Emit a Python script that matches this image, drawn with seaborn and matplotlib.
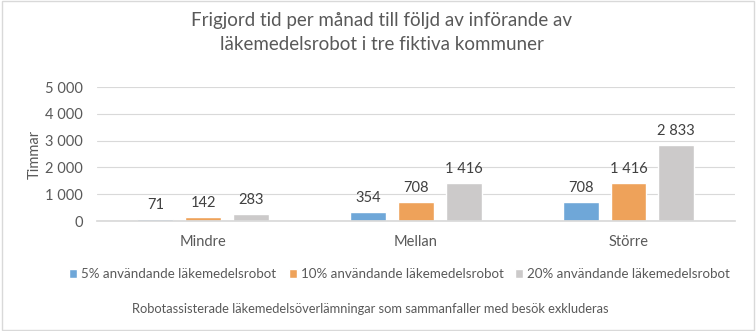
import matplotlib
matplotlib.use("Agg")
import matplotlib.pyplot as plt
import seaborn as sns
import pandas as pd
from matplotlib.ticker import FuncFormatter
from matplotlib.patches import Rectangle

categories = ["Mindre", "Mellan", "Större"]
series = ["5% användande läkemedelsrobot", "10% användande läkemedelsrobot", "20% användande läkemedelsrobot"]
values_5 = [71, 354, 708]
values_10 = [142, 708, 1416]
values_20 = [283, 1416, 2833]
colors = ["#6FA7D8", "#EEA25A", "#CCCACA"]

rows = []
for s, vals in zip(series, [values_5, values_10, values_20]):
    for c, v in zip(categories, vals):
        rows.append({"Kommun": c, "Serie": s, "Timmar": v})
df = pd.DataFrame(rows)

sns.set_theme(style="white")
plt.rcParams['font.family'] = ['Lato', 'DejaVu Sans']

fig = plt.figure(figsize=(7.56, 3.31), dpi=100)
ax = fig.add_axes([0.128, 0.332, 0.844, 0.405])

sns.barplot(data=df, x="Kommun", y="Timmar", hue="Serie", order=categories,
            hue_order=series, palette=colors, width=0.675, gap=0.25, ax=ax,
            saturation=1, legend=True)

def fmt(v):
    return f"{int(round(v)):,}".replace(",", " ")

for cont in ax.containers:
    ax.bar_label(cont, labels=[fmt(b.get_height()) for b in cont], padding=5,
                 fontsize=10.5, color="#404040")

ax.set_ylim(0, 5000)
ax.set_yticks(range(0, 5001, 1000))
ax.yaxis.set_major_formatter(FuncFormatter(lambda v, p: fmt(v)))
ax.set_xlim(-0.5, 2.5)
ax.grid(axis="y", color="#D9D9D9", linewidth=0.8)
ax.set_axisbelow(True)
for sp in ["top", "right", "left"]:
    ax.spines[sp].set_visible(False)
ax.spines["bottom"].set_color("#D9D9D9")
ax.tick_params(axis="y", length=0, labelsize=10.5, labelcolor="#595959", pad=10)
ax.tick_params(axis="x", length=0, labelsize=10.5, labelcolor="#595959", pad=10)
ax.set_xlabel("")
ax.set_ylabel("Timmar", fontsize=10.5, color="#595959", labelpad=2)

ax.legend(loc="center", bbox_to_anchor=(0.475, -0.395), ncol=3, frameon=False,
          fontsize=9.6, labelcolor="#595959", handlelength=0.6, handleheight=0.6,
          handletextpad=0.3, columnspacing=0.9, borderaxespad=0)

fig.suptitle("Frigjord tid per månad till följd av införande av\nläkemedelsrobot i tre fiktiva kommuner",
             x=0.505, y=0.965, fontsize=13.5, color="#595959", linespacing=1.55)
fig.text(0.49, 0.066, "Robotassisterade läkemedelsöverlämningar som sammanfaller med besök exkluderas",
         ha="center", va="center", fontsize=9.3, color="#595959")

fig.patches.append(Rectangle((0.002, 0.003), 0.996, 0.994, transform=fig.transFigure,
                             fill=False, edgecolor="#D9D9D9", linewidth=1))

fig.savefig("out.png", dpi=100)
